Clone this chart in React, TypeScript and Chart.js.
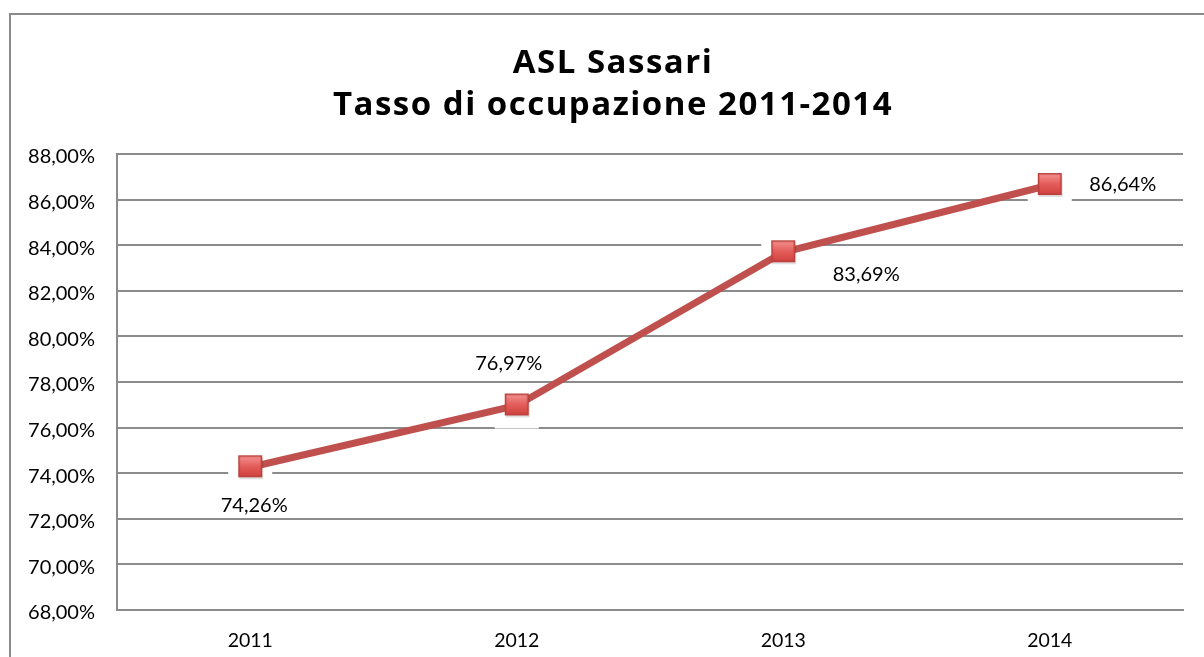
import React, { useEffect, useRef } from "react";
import { Chart, registerables } from "chart.js";

Chart.register(...registerables);

// ---- data ----
const years = ["2011", "2012", "2013", "2014"];
const occupancyRate = [74.26, 76.97, 83.69, 86.64];
const yMin = 68;
const yMax = 88;
const yStep = 2;
const titleLines = ["ASL Sassari", "Tasso di occupazione 2011-2014"];
// label placement (dx, dy) relative to each point
const labelOffsets: [number, number][] = [
  [4, 38],
  [-8, -42],
  [83, 22],
  [73, 0],
];

const FONT = "Lato, 'Open Sans', sans-serif";
const TITLE_FONT = "'Open Sans', Lato, sans-serif";
const fmt = (v: number) => v.toFixed(2).replace(".", ",") + "%";

function makeMarker(): HTMLCanvasElement {
  const c = document.createElement("canvas");
  c.width = 28;
  c.height = 28;
  const g = c.getContext("2d")!;
  // soft shadow
  g.fillStyle = "rgba(0,0,0,0.12)";
  g.fillRect(3, 4, 24, 22);
  const grad = g.createLinearGradient(0, 2, 0, 24);
  grad.addColorStop(0, "#f59492");
  grad.addColorStop(0.5, "#e45e5b");
  grad.addColorStop(1, "#cf3f3c");
  g.fillStyle = grad;
  g.fillRect(2, 2, 24, 22);
  g.strokeStyle = "#b9403d";
  g.lineWidth = 1.5;
  g.strokeRect(2.75, 2.75, 22.5, 20.5);
  return c;
}

const backgroundPlugin = {
  id: "bgFrameTitle",
  beforeDraw(chart: any) {
    const ctx = chart.ctx;
    ctx.save();
    ctx.fillStyle = "#fff";
    ctx.fillRect(0, 0, chart.width, chart.height);
    ctx.strokeStyle = "#8a8a8a";
    ctx.lineWidth = 2;
    ctx.strokeRect(10, 14, 1400, 1000);
    ctx.fillStyle = "#000";
    ctx.textAlign = "center";
    ctx.textBaseline = "alphabetic";
    ctx.font = `bold 33px ${TITLE_FONT}`;
    try {
      (ctx as any).letterSpacing = "1.5px";
    } catch (e) {}
    ctx.fillText(titleLines[0], 613, 73);
    ctx.fillText(titleLines[1], 613, 115);
    ctx.restore();
  },
};

const haloPlugin = {
  id: "halo",
  beforeDatasetsDraw(chart: any) {
    const ctx = chart.ctx;
    const meta = chart.getDatasetMeta(0);
    ctx.save();
    ctx.fillStyle = "#fff";
    meta.data.forEach((pt: any) => {
      ctx.fillRect(pt.x - 22, pt.y - 14, 44, 37);
    });
    ctx.restore();
  },
};

const labelPlugin = {
  id: "valueLabels",
  afterDatasetsDraw(chart: any) {
    const ctx = chart.ctx;
    const meta = chart.getDatasetMeta(0);
    const data = chart.data.datasets[0].data as number[];
    ctx.save();
    ctx.fillStyle = "#000";
    ctx.font = `20px ${FONT}`;
    ctx.textAlign = "center";
    ctx.textBaseline = "middle";
    meta.data.forEach((pt: any, i: number) => {
      const [dx, dy] = labelOffsets[i];
      ctx.fillText(fmt(data[i]), pt.x + dx, pt.y + dy);
    });
    ctx.restore();
  },
};

export default function App() {
  const ref = useRef<HTMLCanvasElement>(null);
  useEffect(() => {
    if (!ref.current) return;
    const marker = makeMarker();
    const chart = new Chart(ref.current, {
      type: "line",
      data: {
        labels: years,
        datasets: [
          {
            data: occupancyRate,
            borderColor: "#c0504d",
            borderWidth: 7,
            tension: 0,
            pointStyle: marker as any,
            pointRadius: 12,
            fill: false,
          },
        ],
      },
      options: {
        animation: false,
        responsive: false,
        events: [],
        layout: { padding: { top: 154, right: 21, left: 0, bottom: 0 } },
        plugins: {
          legend: { display: false },
          tooltip: { enabled: false },
          title: { display: false },
        },
        scales: {
          x: {
            offset: true,
            grid: { display: false, drawTicks: false },
            border: { display: true, color: "#8c8c8c", width: 2 },
            ticks: {
              color: "#000",
              font: { family: FONT, size: 19.5 },
              padding: 19,
              maxRotation: 0,
            },
            afterFit: (s: any) => {
              s.height = 47;
            },
          },
          y: {
            min: yMin,
            max: yMax,
            grid: { color: "#8c8c8c", lineWidth: 2, drawTicks: false },
            border: { display: true, color: "#8c8c8c", width: 2 },
            ticks: {
              stepSize: yStep,
              color: "#000",
              font: { family: FONT, size: 20 },
              padding: 22,
              labelOffset: 3,
              callback: (v: any) => fmt(Number(v)),
            },
            afterFit: (s: any) => {
              s.width = 117;
            },
          },
        },
      },
      plugins: [backgroundPlugin, haloPlugin, labelPlugin],
    });
    return () => chart.destroy();
  }, []);
  return (
    <div style={{ position: "absolute", left: 0, top: 0, width: 1204, height: 657 }}>
      <canvas ref={ref} width={1204} height={657} style={{ display: "block" }} />
    </div>
  );
}
